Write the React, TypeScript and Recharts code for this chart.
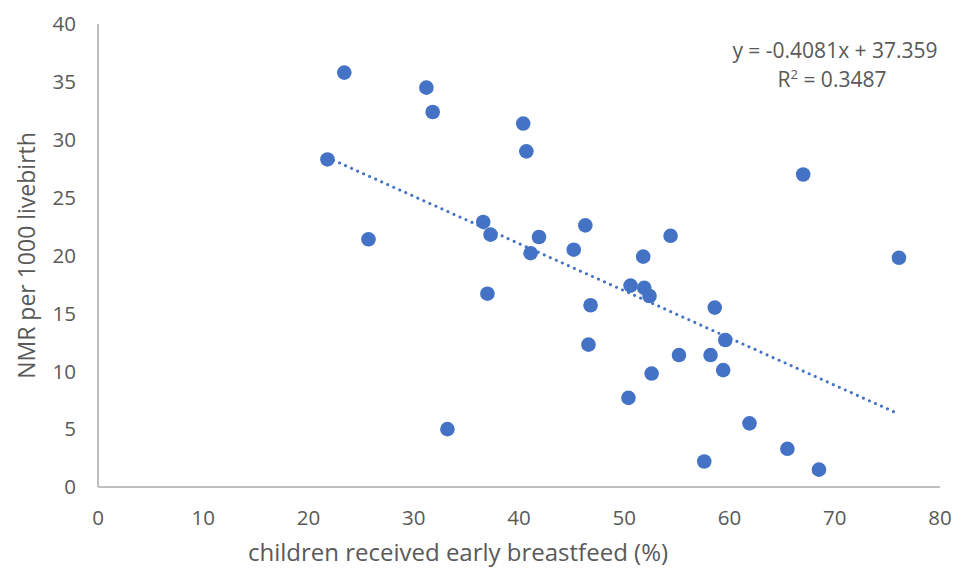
import { ScatterChart, Scatter, XAxis, YAxis, ReferenceLine, Customized } from 'recharts'

// % of children who received early breastfeeding, per region
const breastfeedPct = [
  23.4, 31.2, 31.8, 21.8, 25.7, 40.4, 40.7, 67.0, 76.1, 36.6, 37.3, 41.9,
  41.1, 46.3, 45.2, 54.4, 51.8, 50.6, 51.9, 52.4, 58.6, 46.8, 37.0, 46.6,
  59.6, 55.2, 58.2, 59.4, 52.6, 50.4, 61.9, 65.5, 57.6, 68.5, 33.2,
]
// neonatal mortality rate per 1000 live births
const nmr = [
  35.8, 34.5, 32.4, 28.3, 21.4, 31.4, 29.0, 27.0, 19.8, 22.9, 21.8, 21.6,
  20.2, 22.6, 20.5, 21.7, 19.9, 17.4, 17.2, 16.5, 15.5, 15.7, 16.7, 12.3,
  12.7, 11.4, 11.4, 10.1, 9.8, 7.7, 5.5, 3.3, 2.2, 1.5, 5.0,
]
const xTicks = [0, 10, 20, 30, 40, 50, 60, 70, 80]
const yTicks = [0, 5, 10, 15, 20, 25, 30, 35, 40]

// linear trendline from the reference
const slope = -0.4081
const intercept = 37.359

const BLUE = '#4472C4'
const TEXT = '#595959'
const AXIS = '#BFBFBF'
const FONT = '"Open Sans", sans-serif'

const data = breastfeedPct.map((x, i) => ({ x, y: nmr[i] }))
const xMin = Math.min(...breastfeedPct)
const xMax = Math.max(...breastfeedPct)
const trend = [
  { x: xMin, y: slope * xMin + intercept },
  { x: xMax, y: slope * xMax + intercept },
]

const Dot = (props: any) => <circle cx={props.cx} cy={props.cy} r={7.3} fill={BLUE} />

// equation box and x-axis title (the title sits left of the plot centre in the original)
const Annotations = () => (
  <g fontFamily={FONT} fill={TEXT} textAnchor="middle">
    <text x={835} y={58} fontSize={21}>y = -0.4081x + 37.359</text>
    <text x={832} y={87} fontSize={21}>
      R<tspan dy={-8} fontSize={13}>2</tspan>
      <tspan dy={8}> = 0.3487</tspan>
    </text>
    <text x={458} y={561} fontSize={24}>children received early breastfeed (%)</text>
  </g>
)

export default function App() {
  return (
    <div style={{ position: 'absolute', left: 0, top: 0, background: '#fff' }}>
      <ScatterChart
        width={966}
        height={569}
        margin={{ top: 24, right: 26, bottom: 2, left: 20 }}
      >
        <XAxis
          type="number"
          dataKey="x"
          domain={[0, 80]}
          ticks={xTicks}
          height={80}
          tickLine={false}
          tickSize={0}
          tickMargin={23}
          axisLine={{ stroke: AXIS, strokeWidth: 2 }}
          tick={{ fill: TEXT, fontSize: 20.5, fontFamily: FONT }}
        />
        <YAxis
          type="number"
          dataKey="y"
          domain={[0, 40]}
          ticks={yTicks}
          width={78}
          tickLine={false}
          tickSize={0}
          tickMargin={22}
          axisLine={{ stroke: AXIS, strokeWidth: 2 }}
          tick={{ fill: TEXT, fontSize: 20.5, fontFamily: FONT }}
          label={{
            value: 'NMR per 1000 livebirth',
            angle: -90,
            position: 'insideLeft',
            offset: 7,
            fill: TEXT,
            fontSize: 23,
            fontFamily: FONT,
            style: { textAnchor: 'middle' },
          }}
        />
        <Scatter data={data} shape={Dot} isAnimationActive={false} />
        <ReferenceLine
          segment={trend}
          stroke={BLUE}
          strokeWidth={3}
          strokeDasharray="0.1 6.5"
          strokeLinecap="round"
          ifOverflow="visible"
        />
        <Customized component={Annotations} />
      </ScatterChart>
    </div>
  )
}
